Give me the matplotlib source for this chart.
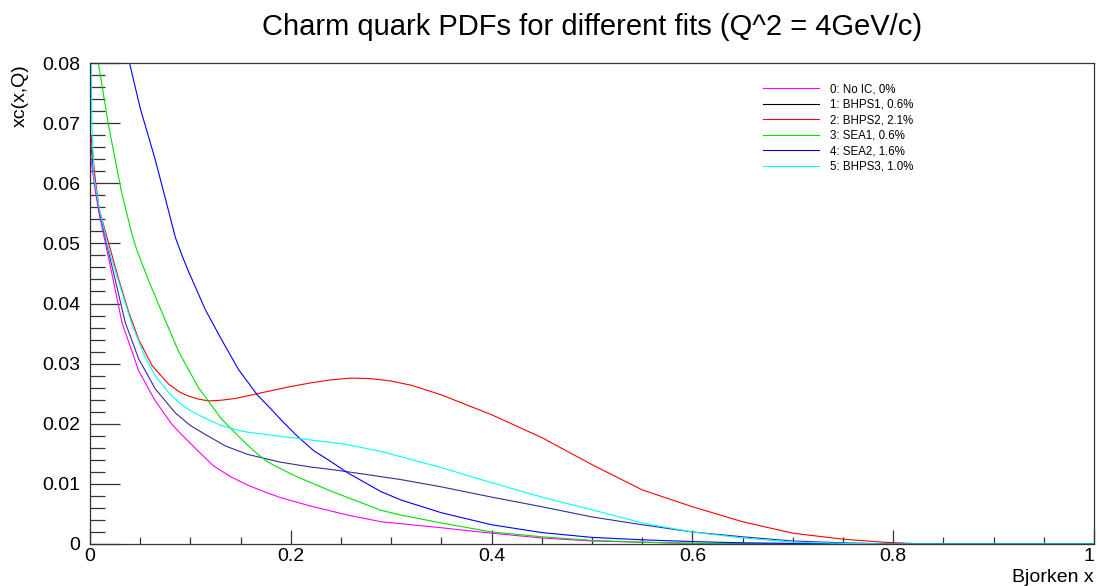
import matplotlib
matplotlib.use("Agg")
import matplotlib.pyplot as plt
from matplotlib.lines import Line2D
from matplotlib.ticker import MultipleLocator

plt.rcParams['font.family'] = ['Liberation Sans', 'DejaVu Sans']

# ---- data ----
labels = ["0: No IC, 0%", "1: BHPS1, 0.6%", "2: BHPS2, 2.1%",
          "3: SEA1, 0.6%", "4: SEA2, 1.6%", "5: BHPS3, 1.0%"]

x_ticks = [0, 0.2, 0.4, 0.6, 0.8, 1.0]
x_ticklabels = ['0', '0.2', '0.4', '0.6', '0.8', '1']
y_ticks = [0, 0.01, 0.02, 0.03, 0.04, 0.05, 0.06, 0.07, 0.08]
y_ticklabels = ['0', '0.01', '0.02', '0.03', '0.04', '0.05', '0.06', '0.07', '0.08']

x_noic = [0.001, 0.005, 0.009, 0.0186, 0.0319, 0.0485, 0.065, 0.0816, 0.09, 0.105, 0.123, 0.14,
          0.157, 0.175, 0.19, 0.22, 0.257, 0.29, 0.35, 0.4, 0.45, 0.5, 0.55, 0.6, 0.7, 1.0]
y_noic = [0.064, 0.059, 0.055, 0.0475, 0.0368, 0.0288, 0.0238, 0.0199, 0.0184, 0.0159, 0.0130,
          0.0112, 0.0098, 0.0086, 0.0077, 0.0063, 0.0048, 0.0037, 0.0027, 0.0018, 0.001, 0.0005,
          0.0003, 0.0001, 0.0, 0.0]

x_bhps1 = [0.001, 0.005, 0.009, 0.0186, 0.0352, 0.0485, 0.065, 0.085, 0.1, 0.115, 0.135, 0.157,
           0.19, 0.22, 0.24, 0.257, 0.29, 0.31, 0.35, 0.4, 0.45, 0.5, 0.55, 0.6, 0.65, 0.7, 0.75,
           0.8, 1.0]
y_bhps1 = [0.066, 0.060, 0.0556, 0.0485, 0.0368, 0.0308, 0.0258, 0.0218, 0.0197, 0.0182, 0.0163,
           0.0149, 0.0136, 0.0128, 0.0124, 0.012, 0.0112, 0.0107, 0.0095, 0.0078, 0.0062, 0.0045,
           0.0032, 0.002, 0.0012, 0.0005, 0.0002, 0.0, 0.0]

x_bhps2 = [0.001, 0.005, 0.009, 0.0186, 0.0286, 0.0385, 0.0485, 0.0617, 0.0783, 0.09, 0.0982,
           0.108, 0.118, 0.13, 0.1447, 0.1666, 0.2, 0.22, 0.24, 0.26, 0.28, 0.3, 0.32, 0.35, 0.4,
           0.45, 0.5, 0.55, 0.6, 0.65, 0.7, 0.75, 0.79, 0.83, 1.0]
y_bhps2 = [0.068, 0.061, 0.0558, 0.0500, 0.044, 0.0386, 0.0340, 0.0297, 0.0266, 0.0252, 0.0246,
           0.0241, 0.0238, 0.0239, 0.0242, 0.025, 0.0262, 0.0268, 0.0273, 0.0276, 0.0275, 0.0271,
           0.0264, 0.0248, 0.0215, 0.0177, 0.0132, 0.009, 0.0062, 0.0037, 0.0018, 0.0008, 0.0003,
           0.0, 0.0]

x_sea1 = [0.005, 0.0078, 0.0187, 0.0316, 0.0418, 0.0466, 0.0584, 0.0717, 0.0883, 0.108, 0.131,
          0.148, 0.163, 0.1765, 0.19, 0.206, 0.24, 0.257, 0.29, 0.31, 0.35, 0.4, 0.45, 0.5, 0.55,
          0.6, 0.7, 1.0]
y_sea1 = [0.085, 0.0805, 0.0694, 0.0584, 0.0515, 0.0489, 0.0438, 0.0385, 0.0320, 0.0260, 0.0208,
          0.0179, 0.0155, 0.0137, 0.0125, 0.0112, 0.0088, 0.0077, 0.0056, 0.0048, 0.0035, 0.002,
          0.0012, 0.0006, 0.0003, 0.0001, 0.0, 0.0]

x_sea2 = [0.035, 0.0385, 0.05, 0.065, 0.075, 0.085, 0.0916, 0.0982, 0.1148, 0.131, 0.148, 0.1666,
          0.18, 0.19, 0.206, 0.223, 0.24, 0.257, 0.29, 0.31, 0.35, 0.4, 0.45, 0.5, 0.55, 0.6,
          0.65, 0.7, 0.8, 1.0]
y_sea2 = [0.083, 0.0806, 0.0725, 0.0639, 0.0575, 0.051, 0.048, 0.0453, 0.039, 0.034, 0.029,
          0.0248, 0.0225, 0.0207, 0.0180, 0.0155, 0.0137, 0.0118, 0.0087, 0.0073, 0.0052, 0.0032,
          0.0019, 0.0011, 0.0007, 0.0004, 0.0002, 0.0001, 0.0, 0.0]

x_bhps3 = [0.001, 0.002, 0.004, 0.009, 0.0186, 0.0319, 0.0418, 0.0551, 0.065, 0.0783, 0.09, 0.1,
           0.1148, 0.131, 0.148, 0.157, 0.19, 0.22, 0.24, 0.257, 0.29, 0.31, 0.35, 0.4, 0.45,
           0.5, 0.55, 0.6, 0.65, 0.7, 0.75, 0.8, 1.0]
y_bhps3 = [0.082, 0.069, 0.061, 0.056, 0.049, 0.0418, 0.0365, 0.031, 0.0280, 0.0252, 0.0233,
           0.0222, 0.0209, 0.0197, 0.0189, 0.0186, 0.0179, 0.0173, 0.0169, 0.0165, 0.0154, 0.0145,
           0.0127, 0.0102, 0.0078, 0.0057, 0.0035, 0.002, 0.001, 0.0003, 0.0001, 0.0, 0.0]

series_x = [x_noic, x_bhps1, x_bhps2, x_sea1, x_sea2, x_bhps3]
series_y = [y_noic, y_bhps1, y_bhps2, y_sea1, y_sea2, y_bhps3]
line_colors = ['#ff00ff', '#30309a', '#ff0000', '#00e000', '#0000ff', '#00ffff']
legend_colors = ['#ff00ff', '#000000', '#ff0000', '#00e000', '#0000ff', '#00ffff']

# ---- figure ----
fig = plt.figure(figsize=(10.97, 5.86), dpi=100)
ax = fig.add_axes([90 / 1097, 42 / 586, 1004 / 1097, 481 / 586])

for xs, ys, c in zip(series_x, series_y, line_colors):
    ax.plot(xs, ys, color=c, lw=0.8, solid_joinstyle='round')

ax.set_xlim(0, 1)
ax.set_ylim(0, 0.08)

axis_col = '#333333'
for s in ax.spines.values():
    s.set_color(axis_col)
    s.set_linewidth(0.9)

ax.set_xticks(x_ticks)
ax.set_xticklabels(x_ticklabels)
ax.set_yticks(y_ticks)
ax.set_yticklabels(y_ticklabels)
ax.xaxis.set_minor_locator(MultipleLocator(0.05))
ax.yaxis.set_minor_locator(MultipleLocator(0.002))

ax.tick_params(axis='x', which='major', direction='in', length=10, width=0.9, color=axis_col,
               labelsize=14, pad=3, top=False)
ax.tick_params(axis='x', which='minor', direction='in', length=5, width=0.9, color=axis_col, top=False)
ax.tick_params(axis='y', which='major', direction='in', length=21.6, width=0.9, color=axis_col,
               labelsize=14, pad=7, right=False)
ax.tick_params(axis='y', which='minor', direction='in', length=10.8, width=0.9, color=axis_col, right=False)

# keep the last x tick label inside the canvas
ax.get_xticklabels()[-1].set_horizontalalignment('right')

fig.text(20 / 1097, 1 - 64 / 586, 'xc(x,Q)', rotation=90, ha='center', va='top', fontsize=14)
fig.text(1094 / 1097, 1 - 577 / 586, 'Bjorken x', ha='right', va='center', fontsize=14)
fig.text(592 / 1097, 1 - 27 / 586, 'Charm quark PDFs for different fits (Q^2 = 4GeV/c)',
         ha='center', va='center', fontsize=21)

handles = [Line2D([], [], color=c, lw=0.8) for c in legend_colors]
ax.legend(handles, labels, loc='upper left', bbox_to_anchor=(763 / 1097, 1 - 83.5 / 586),
          bbox_transform=fig.transFigure, frameon=False, fontsize=8.3, handlelength=4.87,
          handletextpad=0.96, labelspacing=0.30, borderpad=0, borderaxespad=0)

fig.savefig('out.png', dpi=100)
